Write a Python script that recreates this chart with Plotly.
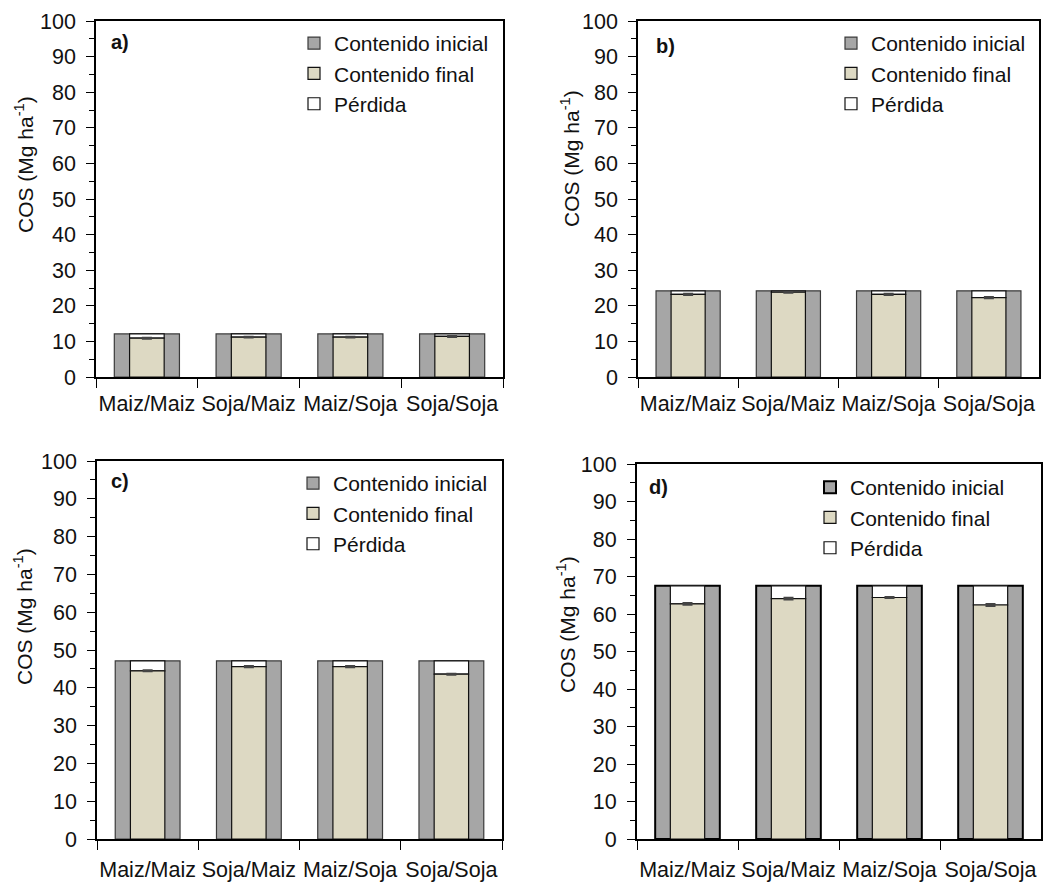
import plotly.graph_objects as go

# Rotaciones evaluadas
categorias = ["Maiz/Maiz", "Soja/Maiz", "Maiz/Soja", "Soja/Soja"]

# Contenido de carbono orgánico del suelo (Mg ha-1) por panel
inicial_a = [12.1, 12.1, 12.1, 12.1]
final_a = [10.9, 11.2, 11.2, 11.4]
error_a = [0.15, 0.1, 0.1, 0.15]

inicial_b = [24.2, 24.2, 24.2, 24.2]
final_b = [23.2, 23.8, 23.2, 22.3]
error_b = [0.15, 0.1, 0.15, 0.15]

inicial_c = [47.1, 47.1, 47.1, 47.1]
final_c = [44.5, 45.6, 45.6, 43.6]
error_c = [0.15, 0.15, 0.15, 0.15]

inicial_d = [67.5, 67.5, 67.5, 67.5]
final_d = [62.7, 64.1, 64.4, 62.4]
error_d = [0.25, 0.25, 0.15, 0.25]

etiquetas_panel = ["a)", "b)", "c)", "d)"]
titulo_y = "COS (Mg ha<sup>-1</sup>)"

FONT = "Liberation Sans, Arial, sans-serif"
GRIS = "#A6A6A6"
BEIGE = "#DDD9C3"

W, H = 1044, 888

# Geometría de cada panel en píxeles: (x0, x1, ytop, ybottom)
cajas = [
    (96, 503, 21, 377),
    (638, 1039, 21, 377),
    (97, 502, 461, 839),
    (637, 1041, 464, 839),
]
# Posición de la leyenda (izquierda, arriba), etiqueta del panel y título del eje y
leyendas = [(294, 23), (831, 23), (293, 463), (810, 467)]
etiq_pos = [(120, 42), (665, 46), (120, 481), (658, 487)]
titulo_pos = [(24, 165), (570, 159), (23, 617), (566, 625)]

paneles = [
    (inicial_a, final_a, error_a),
    (inicial_b, final_b, error_b),
    (inicial_c, final_c, error_c),
    (inicial_d, final_d, error_d),
]

fig = go.Figure()
layout = dict(
    width=W, height=H,
    margin=dict(l=0, r=0, t=0, b=0, autoexpand=False),
    paper_bgcolor="white", plot_bgcolor="white",
    barmode="overlay",
    font=dict(family=FONT, size=21, color="#111111"),
    showlegend=True,
    annotations=[],
)

for i, (ini, fin, err) in enumerate(paneles):
    n = "" if i == 0 else str(i + 1)
    xa, ya = "x" + n, "y" + n
    leg = "legend" + n
    borde = 2 if i == 3 else 1.2
    color_borde = "#000000" if i == 3 else "#3a3a3a"
    perdida = [a - b for a, b in zip(ini, fin)]

    fig.add_trace(go.Bar(
        x=categorias, y=ini, width=0.64, name="Contenido inicial",
        marker=dict(color=GRIS, line=dict(color=color_borde, width=borde)),
        xaxis=xa, yaxis=ya, legend=leg, legendrank=1,
    ))
    fig.add_trace(go.Bar(
        x=categorias, y=perdida, base=fin, width=0.34, name="Pérdida",
        marker=dict(color="white", line=dict(color="#111111", width=1.2)),
        xaxis=xa, yaxis=ya, legend=leg, legendrank=3,
    ))
    fig.add_trace(go.Bar(
        x=categorias, y=fin, width=0.34, name="Contenido final",
        marker=dict(color=BEIGE, line=dict(color="#111111", width=1.2)),
        error_y=dict(type="data", array=err, visible=True,
                     color="#444444", thickness=2, width=5),
        xaxis=xa, yaxis=ya, legend=leg, legendrank=2,
    ))

    x0, x1, yt, yb = cajas[i]
    lw = 2 if i == 3 else 1.5
    layout["xaxis" + n] = dict(
        domain=[x0 / W, x1 / W], anchor=ya, automargin=False,
        type="category", tickson="boundaries", tickangle=0,
        ticks="outside", ticklen=9, tickcolor="black", tickwidth=1,
        showline=True, linecolor="black", linewidth=2, mirror=True,
        showgrid=False, zeroline=False,
        tickfont=dict(family=FONT, size=21.5, color="#111111"),
        ticklabelstandoff=6 if i < 2 else 10,
        range=[-0.5, 3.5],
    )
    layout["yaxis" + n] = dict(
        domain=[1 - yb / H, 1 - yt / H], anchor=xa, automargin=False,
        range=[0, 100], tick0=0, dtick=10,
        ticks="outside", ticklen=8, tickcolor="black", tickwidth=1,
        minor=dict(dtick=5, ticks="outside", ticklen=5, tickcolor="black", showgrid=False),
        showline=True, linecolor="black", linewidth=lw, mirror=True,
        showgrid=False, zeroline=False,
        tickfont=dict(family=FONT, size=21.5, color="#111111"),
        ticklabelstandoff=6,
    )
    lx, ly = leyendas[i]
    layout[leg] = dict(
        x=lx / W, y=1 - ly / H, xanchor="left", yanchor="top",
        bgcolor="rgba(0,0,0,0)", borderwidth=0,
        font=dict(family=FONT, size=21, color="#111111"),
        traceorder="normal", itemclick=False,
    )
    ex, ey = etiq_pos[i]
    layout["annotations"].append(dict(
        x=ex / W, y=1 - ey / H, xref="paper", yref="paper",
        xanchor="center", yanchor="middle",
        text="<b>" + etiquetas_panel[i] + "</b>", showarrow=False,
        font=dict(family=FONT, size=20, color="#111111"),
    ))
    tx, ty = titulo_pos[i]
    layout["annotations"].append(dict(
        x=tx / W, y=1 - ty / H, xref="paper", yref="paper",
        xanchor="center", yanchor="middle",
        text=titulo_y, textangle=-90, showarrow=False,
        font=dict(family=FONT, size=21, color="#111111"),
    ))

fig.update_layout(**layout)
fig.write_html("out.html")
